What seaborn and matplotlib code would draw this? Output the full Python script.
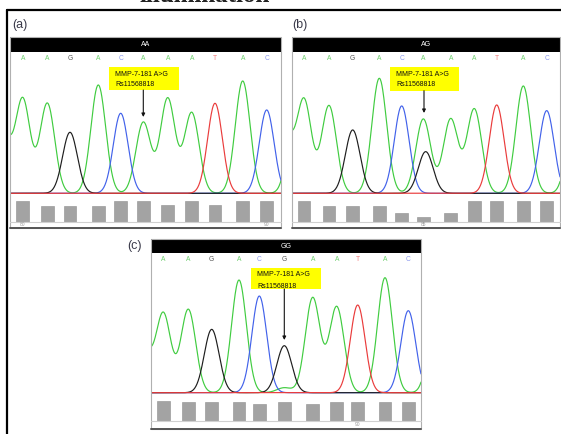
import numpy as np
import pandas as pd
import matplotlib
matplotlib.use("Agg")
import matplotlib.pyplot as plt
import seaborn as sns
from matplotlib.lines import Line2D
from matplotlib.patches import Rectangle

sns.set_theme(style="white")
plt.rcParams["font.family"] = ["Liberation Sans", "DejaVu Sans"]

# ---- data ----
genotypes = ["AA", "AG", "GG"]
panel_tags = ["(a)", "(b)", "(c)"]
snp_label = ["MMP-7-181 A>G", "Rs11568818"]

# (a) AA
calls_a = list("AAGACAAATAC")
call_pos_a = [12.7, 37.3, 60.0, 88.3, 110.7, 133.3, 157.7, 181.7, 205.0, 232.7, 256.7]
peak_h_a = [283, 270, 183, 325, 240, 213, 285, 242, 270, 337, 250]
qual_a = [62, 47, 47, 47, 62, 62, 52, 62, 52, 62, 62]
extra_pos_a = [-8, 286]
extra_h_a = [200, 300]
extra_base_a = ["A", "A"]
tick_idx_a = [0, 10]
tick_lab_a = ["80", "90"]

# (b) AG (heterozygous: second G peak under the A call)
calls_b = list("AAGACAAATAC")
call_pos_b = [11.7, 36.7, 60.4, 87.0, 109.4, 131.0, 158.4, 182.0, 204.4, 231.0, 254.4]
peak_h_b = [280, 263, 190, 345, 262, 223, 223, 253, 265, 322, 248]
qual_b = [62, 48, 48, 48, 28, 15, 28, 62, 62, 62, 62]
extra_pos_b = [-8, 133.4, 283]
extra_h_b = [195, 125, 300]
extra_base_b = ["A", "G", "A"]
tick_idx_b = [5]
tick_lab_b = ["85"]

# (c) GG
calls_c = list("AAGACGAATAC")
call_pos_c = [12.3, 37.3, 60.7, 88.0, 108.3, 133.3, 161.7, 185.7, 206.7, 234.0, 257.3]
peak_h_c = [238, 250, 190, 338, 290, 141, 285, 258, 263, 345, 246]
qual_c = [61, 58, 58, 58, 51, 58, 51, 58, 58, 58, 58]
extra_pos_c = [-8, 133.3, 286]
extra_h_c = [140, 15, 330]
extra_base_c = ["A", "A", "A"]
tick_idx_c = [8]
tick_lab_c = ["90"]

panels = [
    dict(calls=calls_a, pos=call_pos_a, h=peak_h_a, q=qual_a, xpos=extra_pos_a,
         xh=extra_h_a, xb=extra_base_a, ti=tick_idx_a, tl=tick_lab_a),
    dict(calls=calls_b, pos=call_pos_b, h=peak_h_b, q=qual_b, xpos=extra_pos_b,
         xh=extra_h_b, xb=extra_base_b, ti=tick_idx_b, tl=tick_lab_b),
    dict(calls=calls_c, pos=call_pos_c, h=peak_h_c, q=qual_c, xpos=extra_pos_c,
         xh=extra_h_c, xb=extra_base_c, ti=tick_idx_c, tl=tick_lab_c),
]

# ---- layout (pixels) ----
W, H = 561, 434
layout = [
    dict(left=10, right=281, htop=37.3, hbot=52.3, base=193.3, btop=196, bbot=222, fbot=228,
         tag=(12, 25), box=(99, 169, 14.4, 37.7), tip=(133.3, 64.7)),
    dict(left=292.3, right=560, htop=37.3, hbot=52.3, base=193.3, btop=196, bbot=222, fbot=227.7,
         tag=(292, 25), box=(97.7, 166.7, 14.4, 38.4), tip=(131.7, 60.7)),
    dict(left=151, right=421, htop=239, hbot=253.3, base=392.7, btop=395, bbot=421, fbot=429,
         tag=(127, 246), box=(100, 170, 14.4, 35.7), tip=(133.3, 86.7)),
]

trace_cols = {"A": "#40cc40", "C": "#4262ea", "G": "#1e1e1e", "T": "#ea3c3c"}
letter_cols = {"A": "#6ccf6c", "C": "#8a98ee", "G": "#555555", "T": "#f27a7a"}
sigma = 7.4


def box(l, t, r, b):
    return [l / W, 1 - b / H, (r - l) / W, (b - t) / H]


fig = plt.figure(figsize=(W / 100, H / 100), dpi=100)

# outer frame and the cut-off caption above it (only its foot shows in the source)
fig.add_artist(Line2D([7 / W, 7 / W], [0, 1 - 10 / H], color="black", lw=1.6))
fig.add_artist(Line2D([7 / W, 1], [1 - 10 / H, 1 - 10 / H], color="black", lw=1.6))
fig.text(205 / W, 1 - 2 / H, "illumination", ha="center", va="baseline",
         fontsize=18, fontweight="bold", family="Liberation Serif", color="#222222")

for i, (p, L) in enumerate(zip(panels, layout)):
    width = L["right"] - L["left"]
    tall = (L["base"] - L["hbot"]) * 3

    # peaks of each dye
    pk_pos = list(p["pos"]) + list(p["xpos"])
    pk_h = list(p["h"]) + list(p["xh"])
    pk_b = list(p["calls"]) + list(p["xb"])
    xs = np.linspace(0, width, 700)
    frames = []
    for b in "ACGT":
        sig = np.zeros_like(xs)
        for c, hh, bb in zip(pk_pos, pk_h, pk_b):
            if bb == b:
                sig += hh * np.exp(-(xs - c) ** 2 / (2 * sigma ** 2))
        frames.append(pd.DataFrame({"scan": xs, "signal": sig, "base": b}))
    df = pd.concat(frames, ignore_index=True)

    ax = fig.add_axes(box(L["left"], L["hbot"], L["right"], L["base"] + 1))
    sns.lineplot(data=df, x="scan", y="signal", hue="base", hue_order=list("ACGT"),
                 palette=trace_cols, estimator=None, sort=False, legend=False,
                 linewidth=0.85, ax=ax)
    ax.set_xlim(0, width)
    ax.set_ylim(-3, tall)
    ax.axis("off")

    # base calls
    for c, b in zip(p["pos"], p["calls"]):
        ax.text(c, tall - 20, b, ha="center", va="center", fontsize=4.8,
                color=letter_cols[b])

    # SNP label and arrow
    bl, br, bt, bb_ = L["box"]
    ax.add_patch(Rectangle((bl, tall - bb_ * 3), br - bl, (bb_ - bt) * 3,
                           facecolor="#ffff00", edgecolor="none", zorder=5))
    ax.text(bl + 6, tall - (bt + 7.3) * 3, snp_label[0], fontsize=5, va="center",
            ha="left", zorder=6, color="#111111")
    ax.text(bl + 6, tall - (bt + 18.3) * 3, snp_label[1], fontsize=5, va="center",
            ha="left", zorder=6, color="#111111")
    tx, ty = L["tip"]
    ax.annotate("", xy=(tx, tall - ty * 3), xytext=(tx, tall - bb_ * 3),
                arrowprops=dict(arrowstyle="-|>", color="#111111", lw=0.8,
                                mutation_scale=5, shrinkA=0, shrinkB=0), zorder=6)

    # header bar
    hx = fig.add_axes(box(L["left"], L["htop"], L["right"], L["hbot"]))
    hx.set_facecolor("black")
    hx.set_xticks([])
    hx.set_yticks([])
    for s in hx.spines.values():
        s.set_visible(False)
    hx.text(0.5, 0.5, genotypes[i], transform=hx.transAxes, ha="center", va="center",
            fontsize=5, color="white")

    # quality bars
    bx = fig.add_axes(box(L["left"], L["btop"], L["right"], L["bbot"]))
    bx.bar(p["pos"], p["q"], width=12.5, color="#a3a3a3", edgecolor="#8e8e8e", linewidth=0.4)
    bx.set_xlim(0, width)
    bx.set_ylim(0, (L["bbot"] - L["btop"]) * 3)
    bx.axis("off")
    for k, lab in zip(p["ti"], p["tl"]):
        fig.text((L["left"] + p["pos"][k]) / W, 1 - (L["bbot"] + 3) / H, lab,
                 ha="center", va="center", fontsize=3.5, color="#9a9a9a")

    # panel frame
    fig.add_artist(Rectangle((L["left"] / W, 1 - L["fbot"] / H), width / W,
                             (L["fbot"] - L["htop"]) / H, transform=fig.transFigure,
                             fill=False, edgecolor="#b0b0b0", lw=0.8))
    fig.add_artist(Line2D([L["left"] / W, L["right"] / W], [1 - L["bbot"] / H] * 2,
                          color="#d0d0d0", lw=0.8))
    fig.add_artist(Line2D([L["left"] / W, L["right"] / W], [1 - L["fbot"] / H] * 2,
                          color="#555555", lw=1.4))

    fig.text(L["tag"][0] / W, 1 - L["tag"][1] / H, panel_tags[i], ha="left", va="center",
             fontsize=9, color="#3a3a4a")

fig.savefig("out.png", dpi=100)
